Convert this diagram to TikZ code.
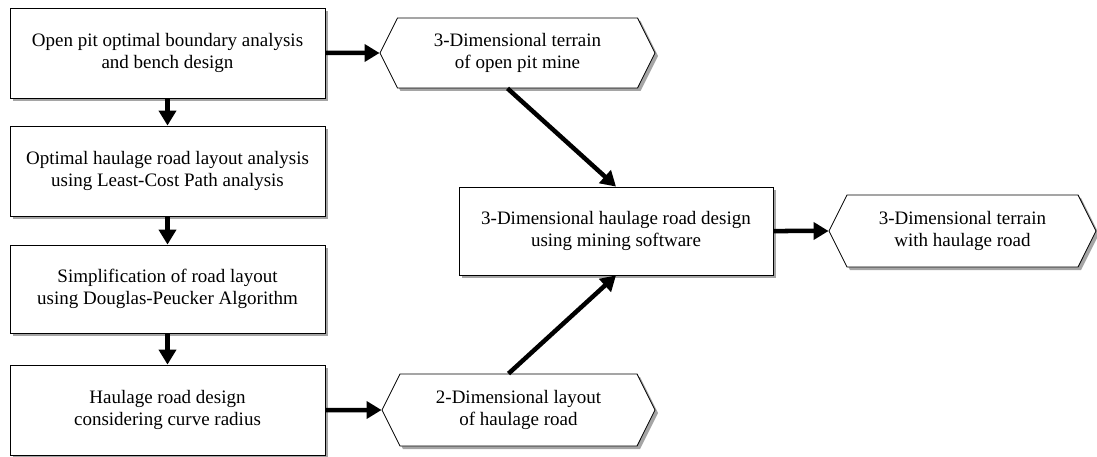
\documentclass[tikz,border=0pt]{standalone}
\usepackage{fontspec}
\setmainfont{Liberation Serif}
\usetikzlibrary{arrows.meta,shadows,shapes.symbols}
\begin{document}
\begin{tikzpicture}[x=1pt, y=-1pt,
        stepbox/.style={draw, line width=0.8pt, fill=white, minimum width=315pt, minimum height=90pt,
            align=center, font=\fontsize{19}{22.5}\selectfont,
            drop shadow={shadow xshift=3pt, shadow yshift=-3pt, fill=black!70}},
        datahex/.style={signal, signal to=west and east, signal pointer angle=127, draw, line width=0.8pt,
            fill=white, minimum height=72pt, inner xsep=2pt, align=center, font=\fontsize{19}{22.5}\selectfont,
            drop shadow={shadow xshift=3pt, shadow yshift=-3pt, fill=black!70}},
        flow/.style={line width=4.5pt, -{Triangle[length=15pt, width=17pt]}}]
    \useasboundingbox (0, 0) rectangle (1097, 457);
        % left column
        \node[stepbox] (boundary) at (167.5, 53){Open pit optimal boundary analysis\\and bench design};
        \node[stepbox] (lcp) at (167.5, 171){Optimal haulage road layout analysis\\using Least-Cost Path analysis};
        \node[stepbox, minimum height=88pt] (simplify) at (167.5, 289){Simplification of road layout\\using Douglas-Peucker Algorithm};
        \node[stepbox] (curve) at (167.5, 410){Haulage road design\\considering curve radius};
        % data
        \node[datahex, minimum width=275pt, minimum height=70pt] (terrain) at (517.5, 53){3-Dimensional terrain\\of open pit mine};
        \node[datahex, minimum width=273pt] (layout) at (518.5, 410){2-Dimensional layout\\of haulage road};
        \node[stepbox, minimum width=314pt, minimum height=88pt] (roaddesign) at (616, 231){3-Dimensional haulage road design\\using mining software};
        \node[datahex, minimum width=267pt] (result) at (962.5, 231){3-Dimensional terrain\\with haulage road};

        \draw[flow] (boundary) to (lcp);
        \draw[flow] (lcp) to (simplify);
        \draw[flow] (simplify) to (curve);
        \draw[flow] (boundary) to (terrain);
        \draw[flow] (curve) to (layout);
        \draw[flow] ([xshift=-10pt]terrain.south) to (roaddesign.north);
        \draw[flow] ([xshift=-10pt]layout.north) to (roaddesign.south);
        \draw[flow] (roaddesign) to (result);
\end{tikzpicture}
\end{document}
